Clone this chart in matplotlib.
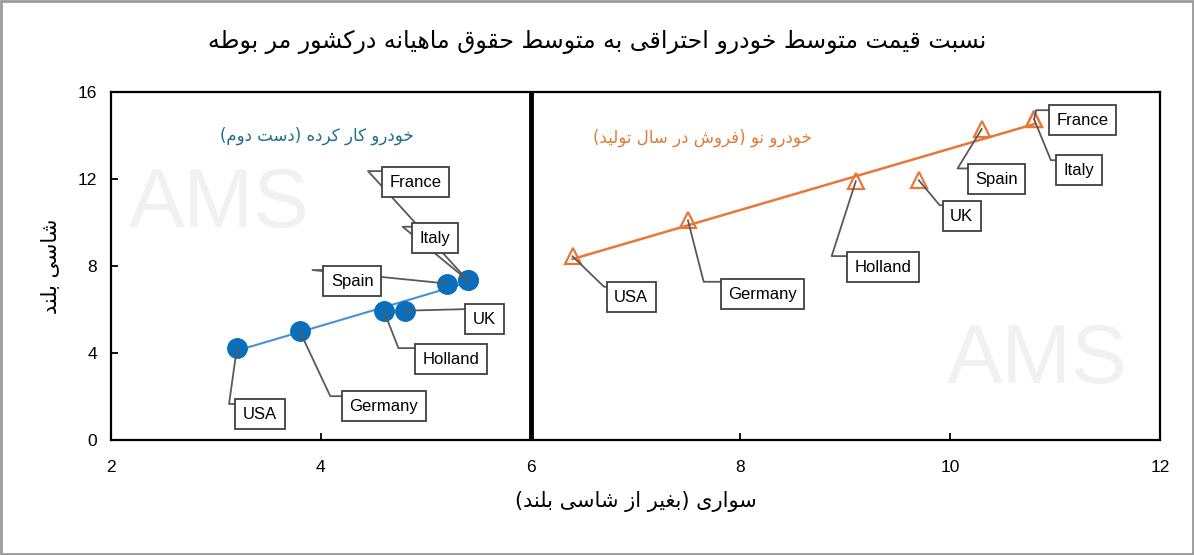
import matplotlib
matplotlib.use("Agg")
import matplotlib.pyplot as plt
import numpy as np
from matplotlib.patches import Rectangle

# داده ها
countries = ["USA", "Germany", "Holland", "UK", "Spain", "France", "Italy"]
used_x = [3.2, 3.8, 4.6, 4.8, 5.2, 5.4, 5.4]
used_y = [4.25, 5.0, 5.95, 5.95, 7.2, 7.35, 7.35]
new_x = [6.4, 7.5, 9.1, 9.7, 10.3, 10.8, 10.8]
new_y = [8.45, 10.1, 11.9, 11.95, 14.3, 14.75, 14.75]

x_ticks = [2, 4, 6, 8, 10, 12]
y_ticks = [0, 4, 8, 12, 16]

title = "نسبت قیمت متوسط خودرو احتراقی به متوسط حقوق ماهیانه درکشور مر بوطه"
x_title = "سواری (بغیر از شاسی بلند)"
y_title = "شاسی بلند"
used_name = "خودرو کار کرده (دست دوم)"
new_name = "خودرو نو (فروش در سال تولید)"

# محل برچسب ها و شکستگی خط راهنما (مختصات داده)
used_lbl = [(3.42, 1.2), (4.6, 1.56), (5.24, 3.72), (5.56, 5.56),
            (4.3, 7.31), (4.9, 11.86), (5.09, 9.29)]
used_elbow = [(3.125, 1.66), (4.09, 2.02), (4.74, 4.23), (5.36, 6.02),
              (3.92, 7.82), (4.45, 12.37), (4.78, 9.81)]
new_lbl = [(6.96, 6.57), (8.21, 6.71), (9.36, 7.95), (10.11, 10.3),
           (10.44, 12.0), (11.26, 14.71), (11.23, 12.41)]
new_elbow = [(6.70, 7.05), (7.65, 7.28), (8.87, 8.46), (9.90, 10.8),
             (10.07, 12.49), (10.82, 15.17), (10.96, 12.87)]

# شکل حروف فارسی (تنها، پایانی، آغازی، میانی)
FORMS = {
    "ا": (0xFE8D, 0xFE8E, None, None),
    "ب": (0xFE8F, 0xFE90, 0xFE91, 0xFE92),
    "ت": (0xFE95, 0xFE96, 0xFE97, 0xFE98),
    "ح": (0xFEA1, 0xFEA2, 0xFEA3, 0xFEA4),
    "خ": (0xFEA5, 0xFEA6, 0xFEA7, 0xFEA8),
    "د": (0xFEA9, 0xFEAA, None, None),
    "ر": (0xFEAD, 0xFEAE, None, None),
    "ز": (0xFEAF, 0xFEB0, None, None),
    "س": (0xFEB1, 0xFEB2, 0xFEB3, 0xFEB4),
    "ش": (0xFEB5, 0xFEB6, 0xFEB7, 0xFEB8),
    "ط": (0xFEC1, 0xFEC2, 0xFEC3, 0xFEC4),
    "غ": (0xFECD, 0xFECE, 0xFECF, 0xFED0),
    "ف": (0xFED1, 0xFED2, 0xFED3, 0xFED4),
    "ق": (0xFED5, 0xFED6, 0xFED7, 0xFED8),
    "ل": (0xFEDD, 0xFEDE, 0xFEDF, 0xFEE0),
    "م": (0xFEE1, 0xFEE2, 0xFEE3, 0xFEE4),
    "ن": (0xFEE5, 0xFEE6, 0xFEE7, 0xFEE8),
    "ه": (0xFEE9, 0xFEEA, 0xFEEB, 0xFEEC),
    "و": (0xFEED, 0xFEEE, None, None),
    "ی": (0xFBFC, 0xFBFD, 0xFBFE, 0xFBFF),
    "ک": (0xFB8E, 0xFB8F, 0xFB90, 0xFB91),
}


def fa(text):
    out = []
    for i, ch in enumerate(text):
        if ch not in FORMS:
            out.append(ch)
            continue
        f = FORMS[ch]
        prev = i > 0 and text[i - 1] in FORMS and FORMS[text[i - 1]][2] is not None
        nxt = f[2] is not None and i + 1 < len(text) and text[i + 1] in FORMS
        if prev and nxt:
            code = f[3]
        elif prev:
            code = f[1]
        elif nxt:
            code = f[2]
        else:
            code = f[0]
        out.append(chr(code))
    s = "".join(reversed(out))
    return s.translate(str.maketrans("()", ")("))


FA_FONT = ["DejaVu Sans"]
LAT_FONT = ["Liberation Sans", "DejaVu Sans"]

fig = plt.figure(figsize=(11.94, 5.55), dpi=100)
ax = fig.add_axes([0.093, 0.207, 0.8785, 0.627])

# واترمارک
ax.text(3.03, 10.8, "AMS", fontsize=60, color="#f1f1f1", ha="center",
        va="center", family=LAT_FONT, zorder=0)
ax.text(10.83, 3.65, "AMS", fontsize=60, color="#f1f1f1", ha="center",
        va="center", family=LAT_FONT, zorder=0)

blue = "#0a6ebd"
orange = "#e8773a"

# خط روند
p = np.polyfit(used_x, used_y, 1)
tx = np.array([min(used_x), max(used_x)])
ax.plot(tx, np.polyval(p, tx), color="#4a90d9", lw=1.5, zorder=2)
p2 = np.polyfit(new_x, new_y, 1)
tx2 = np.array([min(new_x), max(new_x)])
ax.plot(tx2, np.polyval(p2, tx2), color=orange, lw=1.8, zorder=2)

ax.plot(used_x, used_y, "o", color=blue, ms=14, zorder=3)
ax.plot(new_x, new_y, "^", mfc="none", mec=orange, mew=1.6, ms=11, zorder=3)

ax.axvline(6, color="black", lw=3.5, zorder=4)

box = dict(boxstyle="square,pad=0.45", fc="white", ec="#404040", lw=1.3)


def labels(xs, ys, pos, elbows):
    for name, xv, yv, (lx, ly), (ex, ey) in zip(countries, xs, ys, pos, elbows):
        ax.plot([xv, ex, lx], [yv, ey, ey], color="#595959", lw=1.3,
                zorder=4.5)
        ax.text(lx, ly, name, ha="center", va="center", fontsize=12,
                family=LAT_FONT, bbox=box, zorder=5)


labels(used_x, used_y, used_lbl, used_elbow)
labels(new_x, new_y, new_lbl, new_elbow)

ax.text(3.96, 14.0, fa(used_name), color="#1f6e8c", fontsize=12,
        ha="center", va="center", family=FA_FONT)
ax.text(7.64, 13.9, fa(new_name), color="#e07b39", fontsize=12,
        ha="center", va="center", family=FA_FONT)

ax.set_xlim(2, 12)
ax.set_ylim(0, 16)
ax.set_xticks(x_ticks)
ax.set_yticks(y_ticks)
ax.tick_params(direction="in", length=5, width=1.3, labelsize=12.5)
ax.tick_params(axis="x", pad=14)
ax.tick_params(axis="y", pad=10)
for lab in ax.get_xticklabels() + ax.get_yticklabels():
    lab.set_family(LAT_FONT)
for sp in ax.spines.values():
    sp.set_linewidth(1.6)
    sp.set_color("black")

ax.set_xlabel(fa(x_title), fontsize=15, family=FA_FONT, labelpad=12)
ax.set_ylabel(fa(y_title), fontsize=15, family=FA_FONT, labelpad=12)
fig.text(0.5, 0.924, fa(title), fontsize=17, ha="center", va="center",
         family=FA_FONT)

fig.patches.append(Rectangle((0.001, 0.002), 0.998, 0.996, fill=False,
                             ec="#9a9a9a", lw=2, transform=fig.transFigure))

fig.savefig("out.png", dpi=100)
